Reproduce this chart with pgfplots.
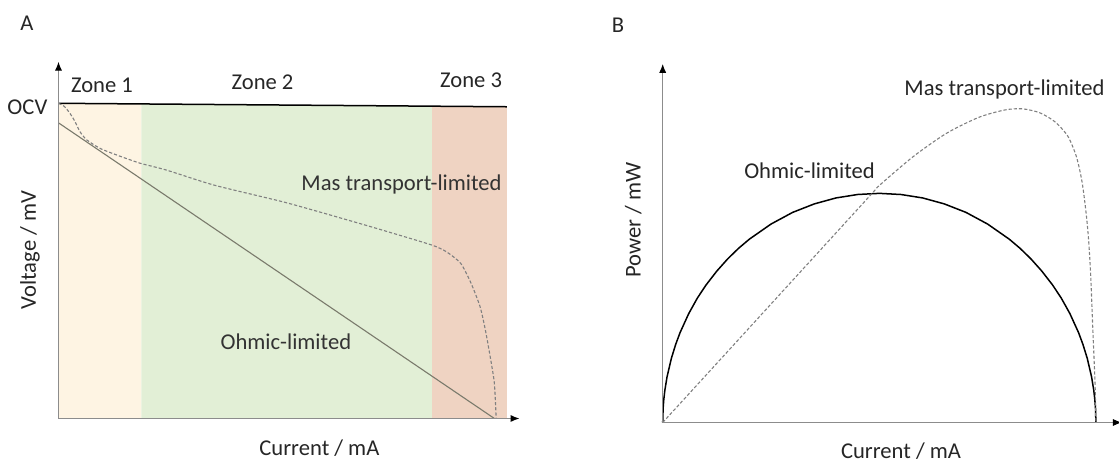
\documentclass[border=0pt]{standalone}
\usepackage{pgfplots}
\pgfplotsset{compat=1.18}
\usepackage{fontspec}
\setmainfont{Carlito}
\usetikzlibrary{arrows.meta}
\definecolor{zoneA}{HTML}{FEF4E3}
\definecolor{zoneB}{HTML}{E2EFD6}
\definecolor{zoneC}{HTML}{EFD3C2}
\definecolor{axgray}{HTML}{8C8C8C}
\definecolor{txt}{HTML}{262626}
\definecolor{ohm}{HTML}{7A7A6C}
\begin{document}
\begin{tikzpicture}[font=\fontsize{11.3pt}{13pt}\selectfont]
\useasboundingbox (0,0) rectangle (559.5pt,229.5pt);
\pgfplotsset{
  myax/.style={
    scale only axis, axis lines=left, axis on top,
    axis line style={draw=axgray, line width=0.6pt, -{Latex[length=4.5pt,width=3.6pt,black]}},
    xtick=\empty, ytick=\empty, clip=false,
    ymin=0, xmin=0,
  }
}
% ---------- Panel A ----------
\begin{axis}[myax, at={(29.25pt,20.25pt)}, anchor=south west,
  width=230.5pt, height=178.4pt, xmax=102.8, ymax=1.132,
  xlabel={Current / mA}, ylabel={Voltage / mV},
  xlabel style={at={(axis description cs:0.566,-0.084)}, anchor=center, text=txt},
  ylabel style={at={(axis description cs:-0.062,0.472)}, anchor=center, rotate=0, text=txt}]
\addplot[fill=zoneA, draw=none] coordinates {(0,1) (18.5,0.998)} \closedcycle;
\addplot[fill=zoneB, draw=none] coordinates {(18.5,0.998) (83.3,0.991)} \closedcycle;
\addplot[fill=zoneC, draw=none] coordinates {(83.3,0.991) (100,0.989)} \closedcycle;
\addplot[black, line width=0.75pt] coordinates {(0,1) (100,0.989)};
\addplot[ohm, line width=0.55pt] coordinates {(0,0.938) (97.2,0)};
\addplot[gray, line width=0.55pt, dash pattern=on 1.6pt off 1pt, smooth, tension=0.4] coordinates {
(0,1) (1.3,0.99) (2.56,0.968) (3.68,0.942) (4.79,0.910) (6.29,0.884) (9.25,0.857)
(12.98,0.836) (18.17,0.810) (24.1,0.788) (34.8,0.740) (50.7,0.685) (66.6,0.621)
(74.5,0.588) (83.3,0.550) (86.5,0.529) (89.7,0.492) (92.0,0.429) (94.0,0.355)
(95.2,0.280) (96.4,0.185) (97.2,0.111) (97.6,0)};
\node[text=txt] at (axis cs:9.7,1.056) {Zone 1};
\node[text=txt] at (axis cs:45.5,1.066) {Zone 2};
\node[text=txt] at (axis cs:92.0,1.074) {Zone 3};
\node[text=black!80] at (axis cs:76.5,0.743) {Mas transport-limited};
\node[text=black!80] at (axis cs:50.7,0.243) {Ohmic-limited};
\node[text=txt, anchor=east, inner sep=0pt] at (axis cs:-2.4,0.986) {OCV};
\node[text=txt] at (axis cs:-7.07,1.254) {A};
\end{axis}
% ---------- Panel B ----------
\begin{axis}[myax, at={(331.35pt,18.25pt)}, anchor=south west,
  width=229.6pt, height=179.3pt, xmax=1.06, ymax=1.565,
  xlabel={Current / mA}, ylabel={Power / mW},
  xlabel style={at={(axis description cs:0.519,-0.081)}, anchor=center, text=txt},
  ylabel style={at={(axis description cs:-0.064,0.565)}, anchor=center, rotate=0, text=txt}]
\addplot[black, line width=0.75pt] coordinates {
(0,0) (0.001,0.0632) (0.0025,0.0999) (0.005,0.141) (0.01,0.199) (0.02,0.28)
(0.03,0.341) (0.04,0.392) (0.06,0.475) (0.08,0.543) (0.1,0.6) (0.125,0.661)
(0.15,0.714) (0.175,0.760) (0.2,0.8) (0.25,0.866) (0.3,0.917) (0.35,0.954)
(0.4,0.980) (0.45,0.995) (0.5,1) (0.55,0.995) (0.6,0.980) (0.65,0.954)
(0.7,0.917) (0.75,0.866) (0.8,0.8) (0.825,0.760) (0.85,0.714) (0.875,0.661)
(0.9,0.6) (0.92,0.543) (0.94,0.475) (0.96,0.392) (0.97,0.341) (0.98,0.28)
(0.99,0.199) (0.995,0.141) (0.9975,0.0999) (0.999,0.0632) (1,0)};
\addplot[gray, line width=0.55pt, dash pattern=on 1.6pt off 1pt, smooth, tension=0.45] coordinates {
(0,0) (0.12,0.248) (0.25,0.517) (0.38,0.786) (0.482,0.997) (0.501,1.036)
(0.578,1.160) (0.655,1.262) (0.73,1.332) (0.79,1.364) (0.83,1.369)
(0.87,1.352) (0.905,1.313) (0.935,1.250) (0.955,1.160) (0.968,1.05)
(0.977,0.920) (0.983,0.800) (0.988,0.64) (0.993,0.40) (0.998,0.17) (1.0,0)};
\node[text=txt] at (axis cs:0.789,1.455) {Mas transport-limited};
\node[text=txt] at (axis cs:0.339,1.099) {Ohmic-limited};
\node[text=txt] at (axis cs:-0.103,1.734) {B};
\end{axis}
\end{tikzpicture}
\end{document}
